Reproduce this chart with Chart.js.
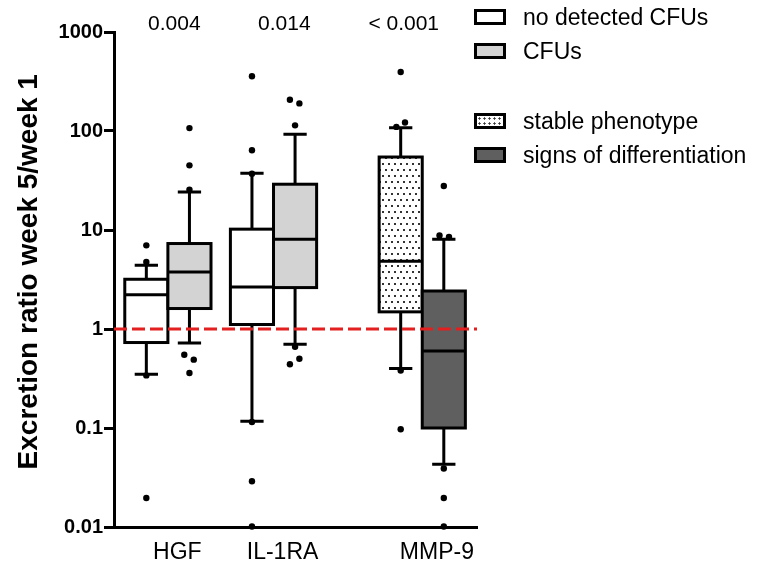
<!DOCTYPE html>
<html>
<head>
<meta charset="utf-8">
<script src="https://cdn.jsdelivr.net/npm/chart.js@4.4.1/dist/chart.umd.min.js"></script>
<style>
  html, body { margin: 0; padding: 0; background: #fff; }
  #wrap { position: relative; width: 773px; height: 573px; }
  .leg { position: absolute; left: 474px; display: flex; align-items: center; height: 30px;
         font: 23px "Liberation Sans", Arial, sans-serif; color: #000; white-space: nowrap; }
  .sw { width: 32px; height: 16px; box-sizing: border-box; border: 3px solid #000; margin-right: 17px; }
</style>
</head>
<body>
<div id="wrap">
  <canvas id="chart" width="773" height="573"></canvas>
  <div id="legend"></div>
</div>
<script>
// Dados
const groups = ['HGF', 'IL-1RA', 'MMP-9'];
const pValues = ['0.004', '0.014', '< 0.001'];
const seriesNames = ['no detected CFUs', 'CFUs', 'stable phenotype', 'signs of differentiation'];
const yTicks = [0.01, 0.1, 1, 10, 100, 1000];
const yTickLabels = ['0.01', '0.1', '1', '10', '100', '1000'];

// seis caixas: HGF (sem/com CFUs), IL-1RA (sem/com CFUs), MMP-9 (estável/diferenciação)
const boxSeries = [0, 1, 0, 1, 2, 3];
const whiskerLow = [0.35, 0.72, 0.117, 0.70, 0.40, 0.043];
const q1 = [0.73, 1.61, 1.11, 2.62, 1.49, 0.10];
const median = [2.22, 3.76, 2.66, 8.05, 4.83, 0.60];
const q3 = [3.18, 7.3, 10.2, 29, 54.6, 2.42];
const whiskerHigh = [4.4, 24.2, 37.4, 92.6, 108, 8.05];
const outliers = [
    [7.0, 4.75, 0.34, 0.0196],
    [107, 45, 25.6, 0.55, 0.49, 0.36],
    [357, 64, 37, 0.115, 0.029, 0.0101],
    [207, 190, 114, 0.66, 0.50, 0.44],
    [394, 122, 110, 0.38, 0.097],
    [27.8, 8.8, 8.5, 0.039, 0.0196, 0.0101]
];
const refLine = 1;

// Layout (unidades do eixo x)
const boxX = [0.75, 1.75, 3.2, 4.2, 6.65, 7.65];
const labelX = [1.47, 3.91, 7.49];
const pX = [1.40, 3.95, 6.72];
const jitter = [
    [0, 0, 0, 0],
    [0, 0, 0, -0.12, 0.1, 0],
    [0, 0, 0, 0, 0, 0],
    [-0.12, 0.1, 0, 0, 0.1, -0.12],
    [0, 0.1, -0.1, 0, 0],
    [0, -0.1, 0.12, 0, 0, 0]
];
const capHalf = 0.27;
const legendY = [2, 36, 106, 140];

// Padrão pontilhado para "stable phenotype"
function dotPattern(ctx) {
    const c = document.createElement('canvas');
    c.width = 6; c.height = 12;
    const g = c.getContext('2d');
    g.fillStyle = '#fff';
    g.fillRect(0, 0, 6, 12);
    g.fillStyle = '#333';
    g.fillRect(1, 1, 2, 2);
    g.fillRect(4, 7, 2, 2);
    return ctx.createPattern(c, 'repeat');
}

const canvas = document.getElementById('chart');
const ctx = canvas.getContext('2d');
const fills = ['#ffffff', '#d3d3d3', dotPattern(ctx), '#5f5f5f'];

// Caixas, bigodes, medianas e linha de referência
const boxPlugin = {
    id: 'boxes',
    beforeDatasetsDraw(chart) {
        const { ctx, scales: { x, y }, chartArea } = chart;
        ctx.save();
        ctx.strokeStyle = '#000';
        ctx.lineWidth = 3;
        boxX.forEach((pos, i) => {
            const cx = x.getPixelForValue(pos);
            const left = x.getPixelForValue(pos - 0.5);
            const right = x.getPixelForValue(pos + 0.5);
            const cl = x.getPixelForValue(pos - capHalf);
            const cr = x.getPixelForValue(pos + capHalf);
            const top = y.getPixelForValue(q3[i]);
            const bot = y.getPixelForValue(q1[i]);
            const wh = y.getPixelForValue(whiskerHigh[i]);
            const wl = y.getPixelForValue(whiskerLow[i]);
            const md = y.getPixelForValue(median[i]);

            ctx.beginPath();
            ctx.moveTo(cx, top); ctx.lineTo(cx, wh);
            ctx.moveTo(cl, wh); ctx.lineTo(cr, wh);
            ctx.moveTo(cx, bot); ctx.lineTo(cx, wl);
            ctx.moveTo(cl, wl); ctx.lineTo(cr, wl);
            ctx.stroke();

            ctx.fillStyle = fills[boxSeries[i]];
            ctx.fillRect(left, top, right - left, bot - top);
            ctx.strokeRect(left, top, right - left, bot - top);

            ctx.beginPath();
            ctx.moveTo(left, md); ctx.lineTo(right, md);
            ctx.stroke();
        });

        // linha tracejada vermelha em y = 1
        const ry = y.getPixelForValue(refLine);
        ctx.strokeStyle = '#e3201f';
        ctx.setLineDash([13, 5]);
        ctx.beginPath();
        ctx.moveTo(chartArea.left, ry);
        ctx.lineTo(chartArea.right, ry);
        ctx.stroke();
        ctx.restore();
    },
    afterDraw(chart) {
        const { ctx, scales: { x } } = chart;
        ctx.save();
        ctx.fillStyle = '#000';
        ctx.font = '21px "Liberation Sans", Arial, sans-serif';
        ctx.textAlign = 'center';
        ctx.textBaseline = 'middle';
        pValues.forEach((p, i) => ctx.fillText(p, x.getPixelForValue(pX[i]), 24));
        ctx.restore();
    }
};

new Chart(ctx, {
    type: 'scatter',
    data: {
        datasets: outliers.map((vals, i) => ({
            data: vals.map((v, j) => ({ x: boxX[i] + jitter[i][j], y: v })),
            pointRadius: 3.2,
            pointBackgroundColor: '#000',
            pointBorderWidth: 0,
            clip: false
        }))
    },
    options: {
        responsive: false,
        animation: false,
        layout: { padding: { left: 0, top: 32, right: 296, bottom: 0 } },
        plugins: { legend: { display: false }, tooltip: { enabled: false } },
        scales: {
            x: {
                type: 'linear',
                min: 0,
                max: 8.42,
                grid: { display: false, drawTicks: false },
                border: { display: true, color: '#000', width: 3 },
                afterBuildTicks: s => { s.ticks = labelX.map(v => ({ value: v })); },
                afterFit: s => { s.height = 46; },
                ticks: {
                    autoSkip: false,
                    maxRotation: 0,
                    padding: 12,
                    color: '#000',
                    font: { family: '"Liberation Sans", Arial, sans-serif', size: 23 },
                    callback: (v, i) => groups[i]
                }
            },
            y: {
                type: 'logarithmic',
                min: 0.01,
                max: 1000,
                grid: { display: true, drawOnChartArea: false, drawTicks: true, tickLength: 10, color: '#000', lineWidth: 3 },
                border: { display: true, color: '#000', width: 3 },
                afterBuildTicks: s => { s.ticks = yTicks.map(v => ({ value: v })); },
                afterFit: s => { s.width = 114; },
                ticks: {
                    padding: 1,
                    color: '#000',
                    font: { family: '"Liberation Sans", Arial, sans-serif', size: 20, weight: 'bold' },
                    callback: v => yTickLabels[yTicks.indexOf(v)]
                },
                title: {
                    display: true,
                    text: '\u00a0\u00a0Excretion ratio week 5/week 1',
                    color: '#000',
                    padding: { top: 12, bottom: 0 },
                    font: { family: '"Liberation Sans", Arial, sans-serif', size: 28, weight: 'bold' }
                }
            }
        }
    },
    plugins: [boxPlugin]
});

// Legenda
const legend = document.getElementById('legend');
seriesNames.forEach((name, i) => {
    const row = document.createElement('div');
    row.className = 'leg';
    row.style.top = legendY[i] + 'px';
    const sw = document.createElement('span');
    sw.className = 'sw';
    if (i === 2) {
        sw.style.background = '#fff radial-gradient(#333 0.9px, transparent 1.3px)';
        sw.style.backgroundSize = '5px 5px';
    } else {
        sw.style.background = fills[i];
    }
    row.appendChild(sw);
    row.appendChild(document.createTextNode(name));
    legend.appendChild(row);
});
</script>
</body>
</html>
